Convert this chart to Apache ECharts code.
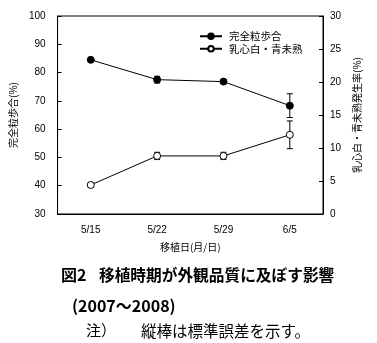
<!DOCTYPE html>
<html>
<head>
<meta charset="utf-8">
<script src="https://cdn.jsdelivr.net/npm/echarts@6/dist/echarts.min.js"></script>
<style>
  html, body { margin: 0; padding: 0; background: #fff; }
  #chart { width: 377px; height: 343px; }
</style>
</head>
<body>
<div id="chart"></div>
<script>
// Transplant dates (month/day)
const dates = ['5/15', '5/22', '5/29', '6/5'];
// Whole-grain ratio (%), left axis, with standard errors
const wholeGrain = [84.5, 77.5, 76.8, 68.3];
const wholeGrainSE = [0.3, 1.2, 0.4, 4.2];
// Milky-white / green-immature incidence (%), right axis, with standard errors
const chalky = [4.4, 8.8, 8.8, 12.0];
const chalkySE = [0.3, 0.55, 0.55, 2.1];
// Axis ticks
const leftTicks = { min: 30, max: 100, interval: 10 };
const rightTicks = { min: 0, max: 30, interval: 5 };

const JP = '"Noto Sans CJK JP", "Noto Sans CJK SC", sans-serif';
const NUM = '"Liberation Sans", Arial, sans-serif';

function errorData(vals, se) {
  return vals.map((v, i) => [i, v - se[i], v + se[i]]);
}

function renderError(params, api) {
  const lo = api.coord([api.value(0), api.value(1)]);
  const hi = api.coord([api.value(0), api.value(2)]);
  const half = 3;
  const st = { stroke: '#000', lineWidth: 1 };
  return {
    type: 'group',
    children: [
      { type: 'line', shape: { x1: lo[0], y1: lo[1], x2: hi[0], y2: hi[1] }, style: st },
      { type: 'line', shape: { x1: lo[0] - half, y1: lo[1], x2: lo[0] + half, y2: lo[1] }, style: st },
      { type: 'line', shape: { x1: hi[0] - half, y1: hi[1], x2: hi[0] + half, y2: hi[1] }, style: st }
    ]
  };
}

const chart = echarts.init(document.getElementById('chart'), null, { renderer: 'canvas' });
chart.setOption({
  animation: false,
  backgroundColor: '#fff',
  title: [
    {
      text: '図2',
      left: 56, top: 262,
      textStyle: { fontFamily: JP, fontSize: 16, fontWeight: 'bold', color: '#000' }
    },
    {
      text: '移植時期が外観品質に及ぼす影響',
      left: 94, top: 262,
      textStyle: { fontFamily: JP, fontSize: 15.7, fontWeight: 'bold', color: '#000' }
    },
    {
      text: '(2007～2008)',
      left: 67, top: 293,
      textStyle: { fontFamily: JP, fontSize: 16, fontWeight: 'bold', color: '#000' }
    },
    {
      text: '注）',
      left: 81, top: 318,
      textStyle: { fontFamily: JP, fontSize: 15, fontWeight: 'normal', color: '#000' }
    },
    {
      text: '縦棒は標準誤差を示す。',
      left: 136, top: 318,
      textStyle: { fontFamily: JP, fontSize: 15.5, fontWeight: 'normal', color: '#000' }
    }
  ],
  legend: {
    orient: 'vertical',
    left: 194, top: 26,
    itemWidth: 22, itemHeight: 7, itemGap: 2,
    textStyle: { fontFamily: JP, fontSize: 10.5, color: '#000', padding: [0, 0, 0, 2] },
    data: ['完全粒歩合', '乳心白・青未熟']
  },
  grid: {
    left: 54, right: 54, top: 16, bottom: 129,
    show: true, borderColor: '#000', borderWidth: 1, backgroundColor: 'transparent'
  },
  xAxis: {
    type: 'category',
    data: dates,
    boundaryGap: true,
    name: '移植日(月/日)',
    nameLocation: 'middle',
    nameGap: 28,
    nameTextStyle: { fontFamily: JP, fontSize: 10, color: '#000' },
    axisLine: { lineStyle: { color: '#000', width: 1 } },
    axisTick: { inside: true, length: 4, lineStyle: { color: '#000' } },
    axisLabel: { fontFamily: NUM, fontSize: 10, color: '#000', margin: 11 },
    splitLine: { show: false }
  },
  yAxis: [
    {
      type: 'value',
      position: 'left',
      min: leftTicks.min, max: leftTicks.max, interval: leftTicks.interval,
      name: '完全粒歩合(%)',
      nameLocation: 'middle',
      nameGap: 33,
      nameTextStyle: { fontFamily: JP, fontSize: 10, color: '#000' },
      axisLine: { show: true, lineStyle: { color: '#000', width: 1 } },
      axisTick: { show: true, inside: true, length: 4, lineStyle: { color: '#000' } },
      axisLabel: { fontFamily: NUM, fontSize: 10, color: '#000', margin: 12 },
      splitLine: { show: false }
    },
    {
      type: 'value',
      position: 'right',
      min: rightTicks.min, max: rightTicks.max, interval: rightTicks.interval,
      name: '乳心白・青未熟発生率(%)',
      nameLocation: 'middle',
      nameRotate: 90,
      nameGap: 26,
      nameTextStyle: { fontFamily: JP, fontSize: 10, color: '#000' },
      axisLine: { show: true, lineStyle: { color: '#000', width: 1 } },
      axisTick: { show: true, inside: true, length: 4, lineStyle: { color: '#000' } },
      axisLabel: { fontFamily: NUM, fontSize: 10, color: '#000', margin: 7 },
      splitLine: { show: false }
    }
  ],
  series: [
    {
      type: 'custom',
      name: 'se1',
      yAxisIndex: 0,
      z: 1,
      renderItem: renderError,
      data: errorData(wholeGrain, wholeGrainSE),
      encode: { x: 0, y: [1, 2] },
      silent: true
    },
    {
      type: 'custom',
      name: 'se2',
      yAxisIndex: 1,
      z: 1,
      renderItem: renderError,
      data: errorData(chalky, chalkySE),
      encode: { x: 0, y: [1, 2] },
      silent: true
    },
    {
      type: 'line',
      name: '完全粒歩合',
      yAxisIndex: 0,
      z: 3,
      data: wholeGrain,
      symbol: 'circle',
      symbolSize: 7,
      lineStyle: { color: '#000', width: 1 },
      itemStyle: { color: '#000', borderColor: '#000', borderWidth: 1 }
    },
    {
      type: 'line',
      name: '乳心白・青未熟',
      yAxisIndex: 1,
      z: 3,
      data: chalky,
      symbol: 'circle',
      symbolSize: 7,
      lineStyle: { color: '#000', width: 1 },
      itemStyle: { color: '#fff', borderColor: '#000', borderWidth: 1 }
    }
  ]
});
</script>
</body>
</html>
